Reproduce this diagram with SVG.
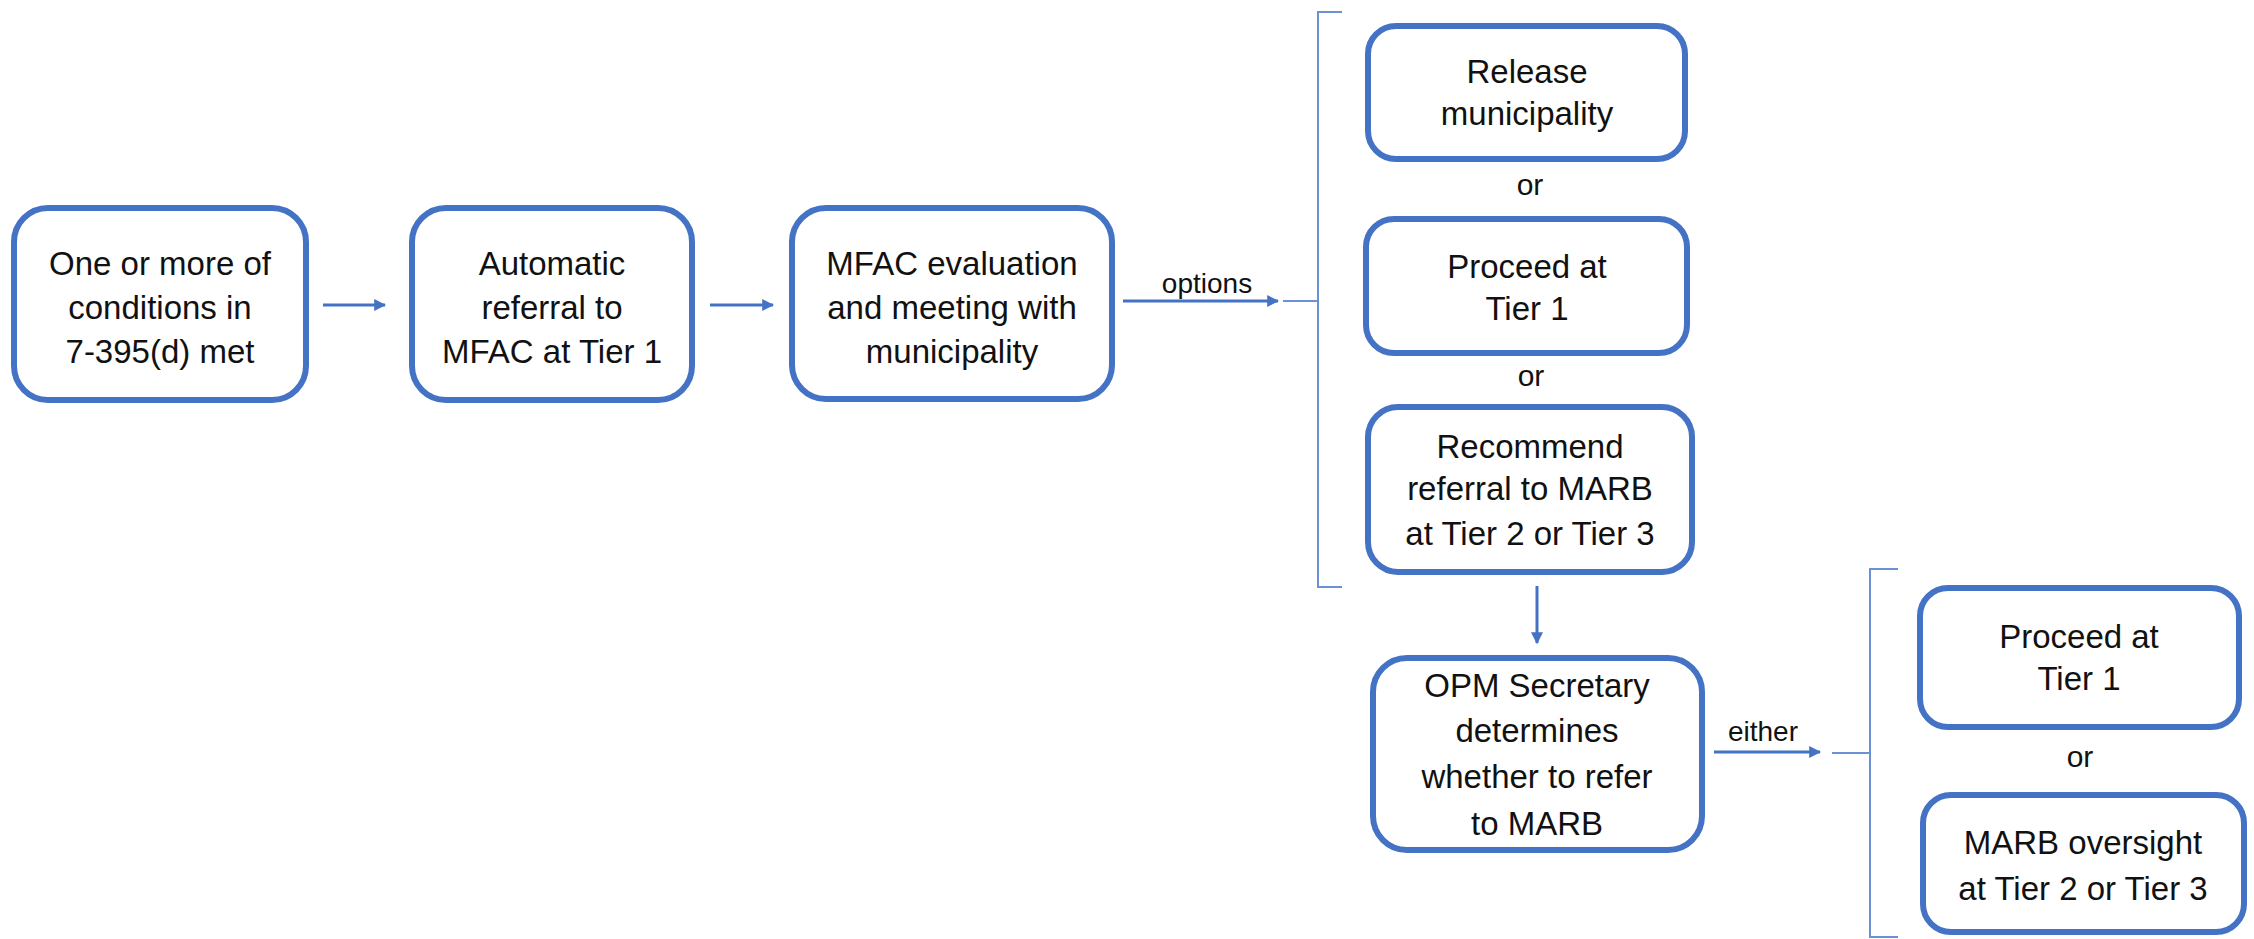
<svg xmlns="http://www.w3.org/2000/svg" width="2254" height="939" viewBox="0 0 2254 939">
<defs>
<style>
.box{fill:#fff;stroke:#4472C4;stroke-width:6}
.t{font-family:"Liberation Sans",Arial,sans-serif;font-size:33px;fill:#111;text-anchor:middle}
.s{font-family:"Liberation Sans",Arial,sans-serif;font-size:28px;fill:#111;text-anchor:middle}
.o{font-family:"Liberation Sans",Arial,sans-serif;font-size:30px;fill:#111;text-anchor:middle}
.c{stroke:#4472C4;stroke-width:3;fill:none}
.b{stroke:#6A91D5;stroke-width:2;fill:none}
</style>
<marker id="ah" viewBox="0 0 10 10" refX="9" refY="5" markerWidth="4" markerHeight="4" orient="auto" markerUnits="strokeWidth">
<path d="M0,0 L10,5 L0,10 z" fill="#4472C4"/>
</marker>
</defs>
<rect width="2254" height="939" fill="#fff"/>
<g id="connectors">
<line class="c" x1="323" y1="305" x2="385" y2="305" marker-end="url(#ah)"/>
<line class="c" x1="710" y1="305" x2="773" y2="305" marker-end="url(#ah)"/>
<line class="c" x1="1123" y1="301" x2="1278" y2="301" marker-end="url(#ah)"/>
<text class="s" x="1207" y="293">options</text>
<path class="b" d="M1283,301 H1318 M1342,12 H1318 V587 H1342"/>
<line class="c" x1="1537" y1="586" x2="1537" y2="643" marker-end="url(#ah)"/>
<line class="c" x1="1714" y1="752" x2="1820" y2="752" marker-end="url(#ah)"/>
<text class="s" x="1763" y="741">either</text>
<path class="b" d="M1832,753 H1870 M1898,569 H1870 V937 H1898"/>
</g>
<g id="n1">
<rect class="box" x="14" y="208" width="292" height="192" rx="34"/>
<text class="t" x="160" y="275">One or more of</text>
<text class="t" x="160" y="319">conditions in</text>
<text class="t" x="160" y="363">7-395(d) met</text>
</g>
<g id="n2">
<rect class="box" x="412" y="208" width="280" height="192" rx="34"/>
<text class="t" x="552" y="275">Automatic</text>
<text class="t" x="552" y="319">referral to</text>
<text class="t" x="552" y="363">MFAC at Tier 1</text>
</g>
<g id="n3">
<rect class="box" x="792" y="208" width="320" height="191" rx="34"/>
<text class="t" x="952" y="275">MFAC evaluation</text>
<text class="t" x="952" y="319">and meeting with</text>
<text class="t" x="952" y="363">municipality</text>
</g>
<g id="n4">
<rect class="box" x="1368" y="26" width="317" height="133" rx="28"/>
<text class="t" x="1527" y="83">Release</text>
<text class="t" x="1527" y="125">municipality</text>
</g>
<text class="o" x="1530" y="195">or</text>
<g id="n5">
<rect class="box" x="1366" y="219" width="321" height="134" rx="28"/>
<text class="t" x="1527" y="278">Proceed at</text>
<text class="t" x="1527" y="320">Tier 1</text>
</g>
<text class="o" x="1531" y="386">or</text>
<g id="n6">
<rect class="box" x="1368" y="407" width="324" height="165" rx="30"/>
<text class="t" x="1530" y="458">Recommend</text>
<text class="t" x="1530" y="500">referral to MARB</text>
<text class="t" x="1530" y="545">at Tier 2 or Tier 3</text>
</g>
<g id="n7">
<rect class="box" x="1373" y="658" width="329" height="192" rx="34"/>
<text class="t" x="1537" y="697">OPM Secretary</text>
<text class="t" x="1537" y="742">determines</text>
<text class="t" x="1537" y="788">whether to refer</text>
<text class="t" x="1537" y="835">to MARB</text>
</g>
<g id="n8">
<rect class="box" x="1920" y="588" width="319" height="139" rx="28"/>
<text class="t" x="2079" y="648">Proceed at</text>
<text class="t" x="2079" y="690">Tier 1</text>
</g>
<text class="o" x="2080" y="767">or</text>
<g id="n9">
<rect class="box" x="1923" y="795" width="321" height="137" rx="28"/>
<text class="t" x="2083" y="854">MARB oversight</text>
<text class="t" x="2083" y="900">at Tier 2 or Tier 3</text>
</g>
</svg>
